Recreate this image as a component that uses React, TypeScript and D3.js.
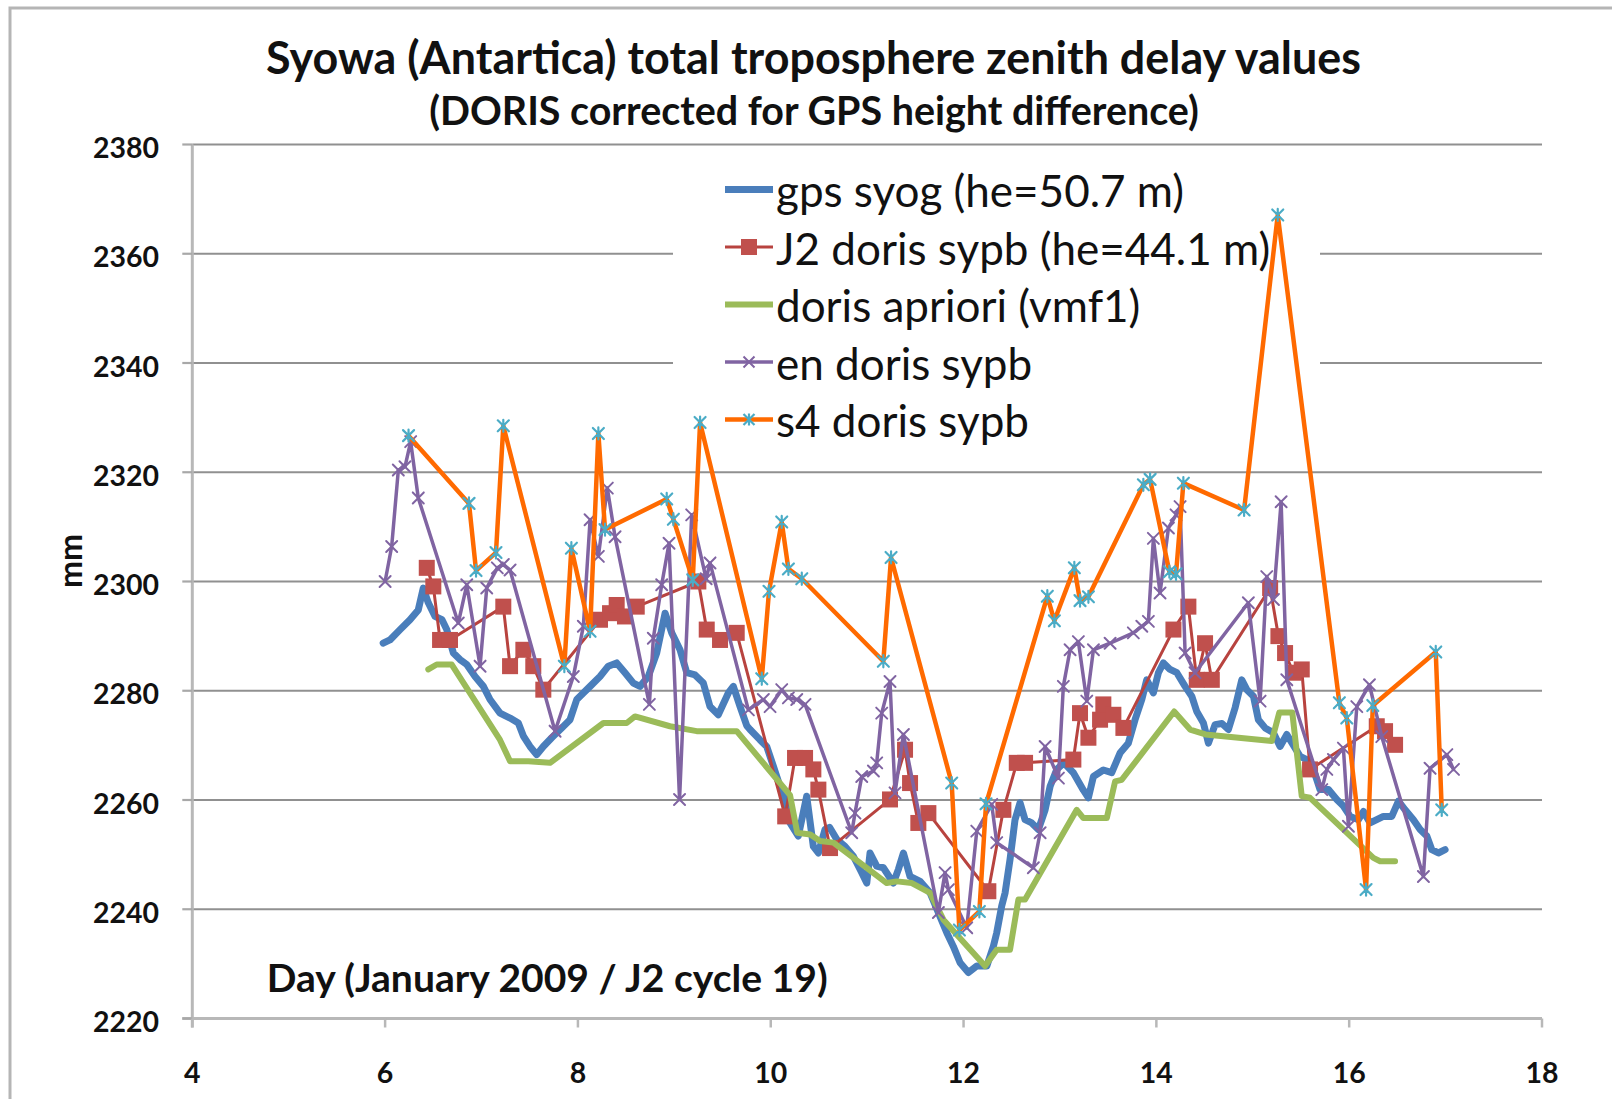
import React, { useEffect, useRef } from "react";
import * as d3 from "d3";

type P = [number, number];

const xTicks = [4, 6, 8, 10, 12, 14, 16, 18];
const yTicks = [2220, 2240, 2260, 2280, 2300, 2320, 2340, 2360, 2380];

const titleText = "Syowa (Antartica) total troposphere zenith delay values";
const subtitleText = "(DORIS corrected for GPS height difference)";
const xTitle = "Day (January 2009 / J2 cycle 19)";
const yTitle = "mm";

const seriesNames = [
  "gps syog (he=50.7 m)",
  "J2 doris sypb (he=44.1 m)",
  "doris apriori (vmf1)",
  "en doris sypb",
  "s4 doris sypb",
];

const gps: P[] = [
  [5.98, 2288.7], [6.05, 2289.3], [6.155, 2291.2], [6.258, 2293.0], [6.344, 2294.8], [6.396, 2298.8],
  [6.448, 2296.1], [6.518, 2293.6], [6.59, 2293.0], [6.639, 2291.2], [6.708, 2286.9], [6.777, 2285.7],
  [6.847, 2284.8], [6.933, 2282.6], [7.019, 2280.8], [7.088, 2278.4], [7.192, 2275.9], [7.296, 2275.0],
  [7.382, 2274.1], [7.434, 2271.7], [7.503, 2269.8], [7.573, 2268.3], [7.641, 2269.8], [7.728, 2271.4],
  [7.832, 2273.2], [7.918, 2274.7], [7.988, 2278.4], [8.056, 2279.6], [8.126, 2280.8], [8.229, 2282.6],
  [8.315, 2284.5], [8.402, 2285.1], [8.488, 2283.3], [8.575, 2281.4], [8.644, 2280.8], [8.73, 2282.6],
  [8.817, 2286.9], [8.904, 2294.2], [8.973, 2290.6], [9.059, 2287.5], [9.129, 2283.3], [9.215, 2282.9],
  [9.301, 2281.4], [9.37, 2277.1], [9.456, 2275.6], [9.56, 2279.6], [9.612, 2280.8], [9.682, 2277.1],
  [9.751, 2273.6], [9.785, 2272.9], [9.889, 2271.0], [9.958, 2269.8], [10.027, 2266.2], [10.096, 2262.5],
  [10.148, 2260.1], [10.2, 2255.8], [10.286, 2253.4], [10.373, 2260.7], [10.442, 2251.5], [10.494, 2250.3],
  [10.563, 2254.6], [10.61, 2255.0], [10.685, 2252.8], [10.771, 2251.5], [10.857, 2249.7], [10.944, 2246.7],
  [10.996, 2244.8], [11.03, 2250.3], [11.099, 2247.9], [11.168, 2247.6], [11.272, 2244.8], [11.324, 2247.3],
  [11.376, 2250.3], [11.445, 2246.0], [11.549, 2245.1], [11.653, 2243.0], [11.739, 2239.4], [11.826, 2235.7],
  [11.894, 2233.2], [11.964, 2230.2], [12.05, 2228.4], [12.137, 2229.6], [12.241, 2229.6], [12.309, 2233.2],
  [12.344, 2235.7], [12.396, 2240.6], [12.431, 2243.0], [12.482, 2249.1], [12.534, 2256.4], [12.586, 2259.5],
  [12.638, 2256.4], [12.707, 2255.8], [12.776, 2254.6], [12.846, 2258.2], [12.898, 2262.5], [12.967, 2265.6],
  [13.04, 2266.8], [13.139, 2265.0], [13.243, 2261.8], [13.295, 2260.4], [13.347, 2264.3], [13.45, 2265.5],
  [13.537, 2265.0], [13.623, 2268.6], [13.709, 2270.4], [13.779, 2274.7], [13.849, 2278.4], [13.9, 2282.0],
  [13.969, 2279.6], [14.021, 2283.3], [14.073, 2285.1], [14.142, 2283.9], [14.212, 2283.3], [14.298, 2280.8],
  [14.367, 2279.0], [14.419, 2276.2], [14.488, 2274.1], [14.54, 2270.4], [14.609, 2273.8], [14.68, 2274.0],
  [14.747, 2272.9], [14.817, 2276.9], [14.886, 2282.0], [14.938, 2280.2], [15.007, 2279.0], [15.058, 2274.7],
  [15.128, 2273.2], [15.214, 2272.3], [15.283, 2269.8], [15.353, 2272.0], [15.422, 2270.0], [15.491, 2268.0],
  [15.56, 2267.4], [15.629, 2265.6], [15.698, 2261.9], [15.785, 2261.9], [15.871, 2260.1], [15.94, 2258.9],
  [16.01, 2257.0], [16.096, 2256.4], [16.148, 2257.9], [16.217, 2255.8], [16.286, 2256.4], [16.355, 2257.0],
  [16.442, 2257.0], [16.511, 2259.8], [16.58, 2258.2], [16.666, 2256.4], [16.736, 2254.6], [16.805, 2253.4],
  [16.857, 2250.9], [16.925, 2250.3], [16.995, 2250.9],
];

const j2: P[] = [
  [6.432, 2302.5], [6.5, 2299.1], [6.57, 2289.3], [6.673, 2289.3], [7.226, 2295.4], [7.296, 2284.5],
  [7.434, 2287.5], [7.537, 2284.5], [7.641, 2280.2], [8.229, 2293.0], [8.333, 2294.2], [8.402, 2295.7],
  [8.488, 2293.6], [8.61, 2295.4], [9.249, 2300.0], [9.336, 2291.2], [9.474, 2289.3], [9.647, 2290.6],
  [10.15, 2257.0], [10.252, 2267.7], [10.356, 2267.7], [10.442, 2265.6], [10.494, 2261.9], [10.615, 2251.2],
  [11.237, 2260.1], [11.393, 2269.2], [11.445, 2263.1], [11.531, 2255.8], [11.635, 2257.6], [12.257, 2243.3],
  [12.413, 2258.2], [12.552, 2266.8], [12.638, 2266.8], [13.139, 2267.4], [13.208, 2275.9], [13.295, 2271.4],
  [13.416, 2274.7], [13.45, 2277.5], [13.554, 2275.6], [13.658, 2273.2], [14.177, 2291.2], [14.332, 2295.4],
  [14.419, 2282.0], [14.505, 2288.7], [14.575, 2282.0], [15.18, 2298.8], [15.266, 2290.0], [15.335, 2286.9],
  [15.422, 2283.3], [15.508, 2283.9], [15.594, 2265.6], [16.286, 2273.5], [16.372, 2272.6], [16.476, 2270.1],
];

const apriori: P[] = [
  [6.448, 2283.9], [6.535, 2284.8], [6.691, 2284.8], [7.192, 2271.0], [7.296, 2267.1], [7.486, 2267.1],
  [7.711, 2266.8], [8.264, 2274.1], [8.506, 2274.1], [8.592, 2275.3], [8.955, 2273.5], [9.232, 2272.6],
  [9.647, 2272.6], [10.2, 2260.9], [10.275, 2254.0], [10.41, 2253.7], [10.511, 2252.5], [10.65, 2252.2],
  [11.203, 2244.8], [11.307, 2245.1], [11.463, 2244.8], [11.653, 2243.0], [11.791, 2238.1], [12.223, 2229.6],
  [12.344, 2232.6], [12.482, 2232.6], [12.569, 2241.8], [12.638, 2241.8], [13.174, 2258.2], [13.243, 2256.7],
  [13.486, 2256.7], [13.572, 2263.4], [13.641, 2263.7], [14.185, 2276.2], [14.35, 2272.9], [14.51, 2272.0],
  [15.197, 2270.8], [15.275, 2276.0], [15.41, 2276.0], [15.508, 2260.7], [15.594, 2260.4], [16.251, 2249.4],
  [16.321, 2248.8], [16.476, 2248.8],
];

const en: P[] = [
  [6.0, 2300.0], [6.068, 2306.4], [6.137, 2320.4], [6.206, 2321.0], [6.265, 2325.6], [6.344, 2315.3],
  [6.759, 2292.4], [6.847, 2299.4], [6.985, 2284.5], [7.054, 2298.8], [7.164, 2302.5], [7.226, 2303.1],
  [7.296, 2302.1], [7.763, 2272.6], [7.952, 2282.6], [8.056, 2291.8], [8.126, 2311.3], [8.212, 2304.6],
  [8.305, 2317.1], [8.385, 2308.2], [8.741, 2277.5], [8.782, 2289.6], [8.869, 2299.4], [8.945, 2307.0],
  [9.054, 2260.1], [9.18, 2312.2], [9.33, 2300.5], [9.37, 2303.4], [9.768, 2276.5], [9.923, 2278.4],
  [9.993, 2277.1], [10.114, 2280.2], [10.183, 2278.7], [10.27, 2278.4], [10.356, 2277.5], [10.84, 2254.0],
  [10.874, 2257.6], [10.944, 2264.3], [11.065, 2265.3], [11.099, 2266.8], [11.151, 2275.9], [11.237, 2281.7],
  [11.289, 2261.3], [11.376, 2272.0], [11.739, 2239.4], [11.808, 2246.7], [11.843, 2243.6], [12.033, 2236.6],
  [12.137, 2254.3], [12.292, 2259.2], [12.344, 2252.2], [12.724, 2247.6], [12.794, 2254.0], [12.846, 2269.8],
  [12.984, 2264.0], [13.035, 2280.8], [13.105, 2287.5], [13.191, 2289.0], [13.278, 2278.1], [13.347, 2287.5],
  [13.52, 2288.7], [13.761, 2290.6], [13.849, 2291.8], [13.917, 2292.7], [13.969, 2307.9], [14.038, 2297.9],
  [14.125, 2309.8], [14.204, 2312.2], [14.246, 2313.7], [14.298, 2286.9], [14.401, 2283.3], [14.954, 2296.1],
  [15.076, 2278.1], [15.145, 2300.9], [15.214, 2296.7], [15.294, 2314.6], [15.353, 2282.0], [15.716, 2261.9],
  [15.768, 2265.6], [15.837, 2267.4], [15.94, 2269.5], [15.992, 2255.2], [16.079, 2277.1], [16.21, 2281.1],
  [16.338, 2271.6], [16.77, 2246.0], [16.839, 2265.8], [17.013, 2268.3], [17.082, 2265.6],
];

const s4: P[] = [
  [6.243, 2326.7], [6.87, 2314.3], [6.943, 2302.0], [7.15, 2305.3], [7.226, 2328.5], [7.859, 2284.5],
  [7.932, 2306.1], [8.126, 2290.9], [8.212, 2327.1], [8.281, 2309.5], [8.921, 2315.1], [8.99, 2311.4],
  [9.191, 2300.3], [9.267, 2329.1], [9.907, 2282.2], [9.982, 2298.2], [10.114, 2310.9], [10.183, 2302.3],
  [10.322, 2300.5], [11.168, 2285.4], [11.248, 2304.4], [11.877, 2263.1], [11.957, 2236.2], [12.164, 2239.6],
  [12.233, 2259.3], [12.869, 2297.3], [12.942, 2292.8], [13.149, 2302.5], [13.208, 2296.5], [13.295, 2297.2],
  [13.865, 2317.7], [13.935, 2318.7], [14.135, 2301.8], [14.204, 2301.4], [14.28, 2318.0], [14.91, 2313.1],
  [15.259, 2367.1], [15.898, 2277.8], [15.975, 2275.0], [16.175, 2243.6], [16.245, 2277.3], [16.898, 2287.1],
  [16.96, 2258.2],
];

const BLUE = "#4a7ebb";
const RED = "#c0504d";
const RED_LINE = "#b8433f";
const GREEN = "#9bbb59";
const PURPLE = "#8064a2";
const ORANGE = "#ff6a00";
const CYAN = "#4bacc6";
const FONT = "Lato, 'Open Sans', sans-serif";

export default function App() {
  const ref = useRef<SVGSVGElement>(null);

  useEffect(() => {
    const svg = d3.select(ref.current);
    svg.selectAll("*").remove();

    const x = d3.scaleLinear().domain([4, 18]).range([192.3, 1542]);
    const y = d3.scaleLinear().domain([2220, 2380]).range([1018.5, 144.5]);

    const fit = (sel: any, guess: number, target: number) => {
      sel.attr("font-size", guess);
      const len = (sel.node() as SVGTextElement).getComputedTextLength();
      const fs = len > 0 ? (guess * target) / len : guess;
      sel.attr("font-size", fs);
      return fs;
    };

    // frame
    svg.append("path").attr("d", "M10,1099 L10,8 L1612,8").attr("fill", "none")
      .attr("stroke", "#b5b5b5").attr("stroke-width", 3);

    // title
    const t1 = svg.append("text").text(titleText).attr("x", 813.5).attr("y", 74)
      .attr("text-anchor", "middle").attr("font-family", FONT).attr("font-weight", 700).attr("fill", "#111");
    fit(t1, 38, 1095);
    const t2 = svg.append("text").text(subtitleText).attr("x", 814).attr("y", 125)
      .attr("text-anchor", "middle").attr("font-family", FONT).attr("font-weight", 700).attr("fill", "#111");
    fit(t2, 32, 770);

    // gridlines
    const g = svg.append("g");
    g.selectAll("line.grid").data(yTicks.filter((d) => d !== 2220)).join("line")
      .attr("x1", x(4)).attr("x2", x(18)).attr("y1", (d) => y(d)).attr("y2", (d) => y(d))
      .attr("stroke", "#909090").attr("stroke-width", 2.2);

    // axes
    g.append("line").attr("x1", x(4)).attr("x2", x(4)).attr("y1", y(2380)).attr("y2", y(2220) + 9)
      .attr("stroke", "#b8b8b8").attr("stroke-width", 3);
    g.append("line").attr("x1", x(4) - 10).attr("x2", x(18)).attr("y1", y(2220)).attr("y2", y(2220))
      .attr("stroke", "#b8b8b8").attr("stroke-width", 3);
    g.selectAll("line.yt").data(yTicks).join("line")
      .attr("x1", x(4) - 10).attr("x2", x(4)).attr("y1", (d) => y(d)).attr("y2", (d) => y(d))
      .attr("stroke", "#a8a8a8").attr("stroke-width", 2.2);
    g.selectAll("line.xt").data(xTicks).join("line")
      .attr("x1", (d) => x(d)).attr("x2", (d) => x(d)).attr("y1", y(2220)).attr("y2", y(2220) + 9)
      .attr("stroke", "#b8b8b8").attr("stroke-width", 2.5);

    // tick labels
    const probe = svg.append("text").text("2220").attr("font-family", FONT).attr("font-weight", 700);
    const tickFs = fit(probe, 29, 66);
    probe.remove();
    svg.append("g").selectAll("text").data(yTicks).join("text")
      .text((d) => String(d)).attr("x", 159).attr("y", (d) => y(d) + 13.5)
      .attr("text-anchor", "end").attr("font-family", FONT).attr("font-weight", 700)
      .attr("font-size", tickFs).attr("fill", "#111");
    svg.append("g").selectAll("text").data(xTicks).join("text")
      .text((d) => String(d)).attr("x", (d) => x(d)).attr("y", 1083)
      .attr("text-anchor", "middle").attr("font-family", FONT).attr("font-weight", 700)
      .attr("font-size", tickFs).attr("fill", "#111");

    // axis titles
    const yt = svg.append("text").text(yTitle).attr("transform", "translate(82,561) rotate(-90)")
      .attr("text-anchor", "middle").attr("font-family", FONT).attr("font-weight", 700).attr("fill", "#111");
    fit(yt, 32, 54);
    const xt = svg.append("text").text(xTitle).attr("x", 266.7).attr("y", 991.5)
      .attr("font-family", FONT).attr("font-weight", 700).attr("fill", "#111");
    fit(xt, 36, 561);

    // legend
    const lg = svg.append("g");
    lg.append("rect").attr("x", 673).attr("y", 160).attr("width", 647).attr("height", 292).attr("fill", "#fff");
    const lBase = [207, 264.5, 322, 379.5, 437];
    const lt0 = lg.append("text").text(seriesNames[0]).attr("font-family", FONT);
    const legFs = fit(lt0, 38, 408);
    lt0.remove();

    const starPath = (s: number) => `M${-s},${-s}L${s},${s}M${-s},${s}L${s},${-s}M0,${-s * 1.1}L0,${s * 1.1}`;
    const xPath = (s: number) => `M${-s},${-s}L${s},${s}M${-s},${s}L${s},${-s}`;

    const line = d3.line<P>().x((d) => x(d[0])).y((d) => y(d[1]));

    const styles = [
      { color: BLUE, width: 7 },
      { color: RED_LINE, width: 3 },
      { color: GREEN, width: 6 },
      { color: PURPLE, width: 3.5 },
      { color: ORANGE, width: 4.5 },
    ];

    seriesNames.forEach((name, i) => {
      const yy = lBase[i] - 17.5;
      lg.append("line").attr("x1", 725).attr("x2", 773).attr("y1", yy).attr("y2", yy)
        .attr("stroke", styles[i].color).attr("stroke-width", styles[i].width);
      const cx = 749;
      if (i === 1) {
        lg.append("rect").attr("x", cx - 8).attr("y", yy - 8).attr("width", 16).attr("height", 16).attr("fill", RED);
      } else if (i === 3) {
        lg.append("path").attr("d", xPath(5.5)).attr("transform", `translate(${cx},${yy})`)
          .attr("stroke", PURPLE).attr("stroke-width", 2).attr("fill", "none");
      } else if (i === 4) {
        lg.append("path").attr("d", starPath(5.5)).attr("transform", `translate(${cx},${yy})`)
          .attr("stroke", CYAN).attr("stroke-width", 2.2).attr("fill", "none");
      }
      lg.append("text").text(name).attr("x", 776).attr("y", lBase[i])
        .attr("font-family", FONT).attr("font-size", legFs).attr("fill", "#111");
    });

    // series
    const sg = svg.append("g").attr("stroke-linejoin", "round").attr("stroke-linecap", "round");
    sg.append("path").datum(gps).attr("d", line).attr("fill", "none").attr("stroke", BLUE).attr("stroke-width", 7);

    sg.append("path").datum(j2).attr("d", line).attr("fill", "none").attr("stroke", RED_LINE).attr("stroke-width", 3);
    sg.append("g").selectAll("rect").data(j2).join("rect")
      .attr("x", (d) => x(d[0]) - 8).attr("y", (d) => y(d[1]) - 8).attr("width", 16).attr("height", 16)
      .attr("fill", RED);

    sg.append("path").datum(apriori).attr("d", line).attr("fill", "none").attr("stroke", GREEN).attr("stroke-width", 6);

    sg.append("path").datum(en).attr("d", line).attr("fill", "none").attr("stroke", PURPLE).attr("stroke-width", 3.5);
    sg.append("g").selectAll("path").data(en).join("path")
      .attr("d", xPath(5.5)).attr("transform", (d) => `translate(${x(d[0])},${y(d[1])})`)
      .attr("stroke", PURPLE).attr("stroke-width", 2).attr("fill", "none");

    sg.append("path").datum(s4).attr("d", line).attr("fill", "none").attr("stroke", ORANGE).attr("stroke-width", 4.5);
    sg.append("g").selectAll("path").data(s4).join("path")
      .attr("d", starPath(5.5)).attr("transform", (d) => `translate(${x(d[0])},${y(d[1])})`)
      .attr("stroke", CYAN).attr("stroke-width", 2.2).attr("fill", "none");
  }, []);

  return (
    <svg
      ref={ref}
      width={1612}
      height={1099}
      style={{ position: "absolute", left: 0, top: 0, background: "#fff" }}
    />
  );
}
